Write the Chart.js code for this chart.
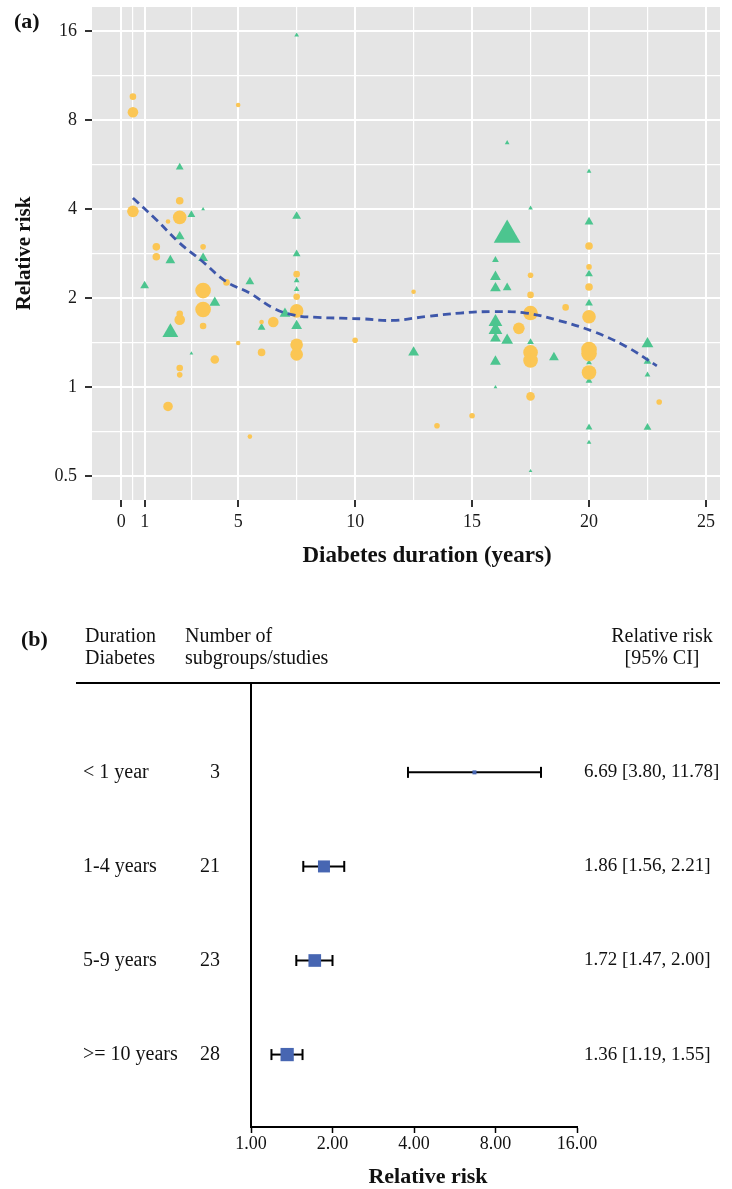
<!DOCTYPE html>
<html>
<head>
<meta charset="utf-8">
<script src="https://cdn.jsdelivr.net/npm/chart.js@4.4.0/dist/chart.umd.min.js"></script>
<style>
    html, body { margin: 0; padding: 0; background: #fff; }
    #panelA { position: absolute; left: 0; top: 0; width: 732px; height: 590px; }
    #panelB { position: absolute; left: 0; top: 590px; width: 732px; height: 599px; }
</style>
</head>
<body>
<div id="panelA"><canvas id="scatterChart"></canvas></div>
<div id="panelB"><canvas id="forestChart"></canvas></div>
<script>
// ---- panel (a): individual subgroups ----
const yellowDuration = [0.5, 0.5, 5.0, 2.5, 0.5, 2.5, 2.0, 1.5, 1.5, 3.5, 4.5, 3.5, 3.5, 2.5, 2.5, 3.5, 4.0, 2.5, 2.5, 2.0,
    5.5, 5.0, 6.0, 6.0, 6.5, 7.5, 7.5, 7.5, 7.5, 7.5, 10.0, 12.5, 13.5, 15.0, 17.5, 20.0, 20.0, 20.0, 17.5, 19.0,
    17.5, 20.0, 17.0, 17.5, 17.5, 17.5, 20.0, 20.0, 20.0, 23.0];
const yellowRR = [9.6, 8.5, 9.0, 4.27, 3.93, 3.75, 3.63, 2.98, 2.76, 2.98, 2.26, 2.12, 1.83, 1.77, 1.69, 1.61, 1.24, 1.16, 1.10, 0.86,
    0.68, 1.41, 1.31, 1.66, 1.66, 1.81, 2.02, 2.41, 1.39, 1.29, 1.44, 2.10, 0.74, 0.80, 2.39, 3.00, 2.55, 2.18, 2.05, 1.86,
    1.78, 1.73, 1.58, 1.31, 1.23, 0.93, 1.34, 1.30, 1.12, 0.89];
const yellowWeight = [25, 81, 9, 36, 100, 144, 9, 36, 36, 16, 25, 196, 196, 25, 81, 25, 49, 25, 16, 64,
    9, 9, 36, 9, 81, 144, 25, 25, 121, 121, 16, 9, 16, 16, 16, 36, 16, 36, 25, 25,
    169, 144, 100, 169, 169, 49, 196, 196, 169, 16];

const greenDuration = [7.5, 16.5, 20.0, 2.5, 17.5, 3.5, 3.0, 7.5, 20.0, 16.5, 2.5, 2.1, 3.5, 7.5, 16.0, 20.0, 16.0, 5.5, 7.5, 7.5,
    1.0, 16.0, 16.5, 20.0, 4.0, 7.0, 2.1, 6.0, 7.5, 3.0, 12.5, 16.0, 16.0, 16.0, 16.5, 17.5, 18.5, 16.0, 16.0, 17.5,
    20.0, 20.0, 20.0, 20.0, 22.5, 22.5, 22.5, 22.5];
const greenRR = [15.5, 6.7, 5.37, 5.54, 4.03, 4.0, 3.83, 3.78, 3.62, 3.27, 3.23, 2.68, 2.73, 2.82, 2.69, 2.41, 2.36, 2.27, 2.29, 2.14,
    2.20, 2.16, 2.17, 1.92, 1.93, 1.77, 1.53, 1.59, 1.61, 1.30, 1.31, 1.66, 1.56, 1.46, 1.44, 1.42, 1.26, 1.22, 1.00, 0.52,
    1.21, 1.05, 0.73, 0.65, 1.40, 1.22, 1.10, 0.73];
const greenWeight = [9, 9, 9, 36, 9, 4, 36, 49, 49, 625, 64, 64, 64, 36, 25, 36, 81, 49, 16, 16,
    49, 81, 49, 36, 81, 81, 196, 36, 81, 4, 81, 144, 144, 81, 100, 25, 64, 81, 4, 4,
    16, 25, 25, 9, 100, 36, 16, 36];

// smoothed trend
const trendDuration = [0.5, 1.5, 2.5, 3.4, 4.5, 5.5, 6.5, 7.4, 8.4, 9.4, 10.4, 11.6, 13.0, 14.5, 15.9, 17.3, 18.7, 20.2, 21.6, 22.9];
const trendRR = [4.36, 3.68, 3.07, 2.69, 2.27, 2.08, 1.85, 1.75, 1.72, 1.71, 1.70, 1.68, 1.73, 1.78, 1.80, 1.78, 1.68, 1.54, 1.37, 1.18];

const durationTicks = [0, 1, 5, 10, 15, 20, 25];
const durationMinor = [0.5, 3, 7.5, 12.5, 17.5, 22.5];
const riskTicks = [0.5, 1, 2, 4, 8, 16];
const riskMinor = [0.707, 1.414, 2.828, 5.657, 11.31];

// ---- panel (b): pooled estimates ----
const durationGroups = ['< 1 year', '1-4 years', '5-9 years', '>= 10 years'];
const groupCounts = [3, 21, 23, 28];
const groupRR = [6.69, 1.86, 1.72, 1.36];
const groupLower = [3.80, 1.56, 1.47, 1.19];
const groupUpper = [11.78, 2.21, 2.00, 1.55];
const groupWeight = [1, 9, 10, 11];
const forestTicks = [1, 2, 4, 8, 16];

const SERIF = "'Liberation Serif', 'DejaVu Serif', serif";
Chart.defaults.animation = false;
Chart.defaults.font.family = SERIF;

const minorX = new Set(durationMinor);
const minorY = new Set(riskMinor);

// chart area must not move because of label overhang
function fixSize(prop, size) {
    return s => {
        s[prop] = size;
        s.paddingTop = 0; s.paddingBottom = 0; s.paddingLeft = 0; s.paddingRight = 0;
    };
}

const panelBackground = {
    id: 'panelBackground',
    beforeDraw(chart) {
        const { ctx, chartArea: a } = chart;
        ctx.save();
        ctx.fillStyle = '#e5e5e5';
        ctx.fillRect(a.left, a.top, a.right - a.left, a.bottom - a.top);
        ctx.restore();
    },
    afterDraw(chart) {
        const ctx = chart.ctx;
        ctx.save();
        ctx.fillStyle = '#111';
        ctx.font = 'bold 22px ' + SERIF;
        ctx.textBaseline = 'middle';
        ctx.fillText('(a)', 14, 22);
        ctx.textAlign = 'center';
        ctx.font = 'bold 23px ' + SERIF;
        ctx.fillText('Diabetes duration (years)', 427, 556);
        ctx.restore();
    }
};

function gridStyle(minorSet) {
    return {
        color: '#ffffff',
        lineWidth: c => (c.tick && minorSet.has(c.tick.value)) ? 1.2 : 2,
        tickColor: c => (c.tick && minorSet.has(c.tick.value)) ? 'rgba(0,0,0,0)' : '#333',
        tickWidth: 2,
        tickLength: 7
    };
}

new Chart(document.getElementById('scatterChart'), {
    type: 'scatter',
    data: {
        datasets: [
            {
                label: 'trend',
                data: trendDuration.map((x, i) => ({ x: x, y: trendRR[i] })),
                showLine: true,
                borderColor: '#3e57aa',
                borderWidth: 2.8,
                borderDash: [8, 5],
                tension: 0.4,
                pointRadius: 0
            },
            {
                label: 'yellow',
                data: yellowDuration.map((x, i) => ({ x: x, y: yellowRR[i] })),
                pointStyle: 'circle',
                pointRadius: yellowWeight.map(w => Math.sqrt(w) / 2 + 0.8),
                backgroundColor: '#fbc654',
                borderWidth: 0
            },
            {
                label: 'green',
                data: greenDuration.map((x, i) => ({ x: x, y: greenRR[i] })),
                pointStyle: 'triangle',
                pointRadius: greenWeight.map(w => Math.sqrt(w) * 0.58 + 1),
                backgroundColor: '#4cc58f',
                borderWidth: 0
            }
        ]
    },
    options: {
        responsive: true,
        maintainAspectRatio: false,
        layout: { autoPadding: false, padding: { top: 7, right: 12, left: 0, bottom: 0 } },
        plugins: { legend: { display: false }, tooltip: { enabled: false } },
        scales: {
            x: {
                type: 'linear',
                min: -1.25,
                max: 25.6,
                afterBuildTicks: s => { s.ticks = durationTicks.concat(durationMinor).sort((a, b) => a - b).map(v => ({ value: v })); },
                afterFit: fixSize('height', 90),
                grid: gridStyle(minorX),
                border: { display: false },
                ticks: {
                    padding: 4,
                    color: '#1a1a1a',
                    font: { size: 18 },
                    callback: v => minorX.has(v) ? '' : String(v)
                },
                title: { display: false }
            },
            y: {
                type: 'logarithmic',
                min: 0.415,
                max: 19.3,
                afterBuildTicks: s => { s.ticks = riskTicks.concat(riskMinor).sort((a, b) => a - b).map(v => ({ value: v })); },
                afterFit: fixSize('width', 92),
                grid: gridStyle(minorY),
                border: { display: false },
                ticks: {
                    padding: 8,
                    color: '#1a1a1a',
                    font: { size: 18 },
                    callback: v => minorY.has(v) ? '' : String(v)
                },
                title: {
                    display: true,
                    text: 'Relative risk',
                    color: '#111',
                    font: { size: 21, weight: 'bold' },
                    padding: { top: 12, bottom: 0 }
                }
            }
        }
    },
    plugins: [panelBackground]
});

// ---- forest plot ----
const forestText = {
    id: 'forestText',
    afterDraw(chart) {
        const { ctx, chartArea: a, scales } = chart;
        ctx.save();
        ctx.fillStyle = '#111';
        ctx.textBaseline = 'middle';
        ctx.font = 'bold 22px ' + SERIF;
        ctx.fillText('(b)', 21, 50);

        ctx.font = '20px ' + SERIF;
        ctx.textAlign = 'left';
        ctx.fillText('Duration', 85, 47);
        ctx.fillText('Diabetes', 85, 69);
        ctx.fillText('Number of', 185, 47);
        ctx.fillText('subgroups/studies', 185, 69);
        ctx.textAlign = 'center';
        ctx.fillText('Relative risk', 662, 47);
        ctx.fillText('[95% CI]', 662, 69);

        ctx.strokeStyle = '#000';
        ctx.lineWidth = 2;
        ctx.beginPath();
        ctx.moveTo(76, a.top);
        ctx.lineTo(720, a.top);
        ctx.stroke();

        durationGroups.forEach((g, i) => {
            const y = scales.y.getPixelForValue(i + 1);
            ctx.font = '20px ' + SERIF;
            ctx.textAlign = 'left';
            ctx.fillText(g, 83, y);
            ctx.textAlign = 'right';
            ctx.fillText(String(groupCounts[i]), 220, y);
            ctx.font = '19px ' + SERIF;
            ctx.textAlign = 'left';
            ctx.fillText(groupRR[i].toFixed(2) + ' [' + groupLower[i].toFixed(2) + ', ' + groupUpper[i].toFixed(2) + ']', 584, y);
        });

        ctx.textAlign = 'center';
        ctx.font = 'bold 22px ' + SERIF;
        ctx.fillText('Relative risk', 428, 587);
        ctx.restore();
    }
};

const ciSets = durationGroups.map((g, i) => ({
    label: g,
    data: [{ x: groupLower[i], y: i + 1 }, { x: groupUpper[i], y: i + 1 }],
    showLine: true,
    borderColor: '#000',
    borderWidth: 2,
    pointStyle: 'line',
    pointRotation: 90,
    pointRadius: 5.5,
    pointBorderWidth: 2,
    pointBorderColor: '#000'
}));

new Chart(document.getElementById('forestChart'), {
    type: 'scatter',
    data: {
        datasets: [
            {
                label: 'estimate',
                data: groupRR.map((v, i) => ({ x: v, y: i + 1 })),
                pointStyle: 'rect',
                pointRadius: groupWeight.map(w => Math.sqrt(w) * 4 / Math.SQRT2),
                backgroundColor: '#4766b2',
                borderWidth: 0
            }
        ].concat(ciSets)
    },
    options: {
        responsive: true,
        maintainAspectRatio: false,
        layout: { autoPadding: false, padding: { top: 93, right: 155, left: 0, bottom: 0 } },
        plugins: { legend: { display: false }, tooltip: { enabled: false } },
        scales: {
            x: {
                type: 'logarithmic',
                min: 1,
                max: 16,
                afterBuildTicks: s => { s.ticks = forestTicks.map(v => ({ value: v })); },
                afterFit: fixSize('height', 62),
                grid: { drawOnChartArea: false, drawTicks: true, tickLength: 6, tickColor: '#000', tickWidth: 1.5 },
                border: { display: true, color: '#000', width: 2 },
                ticks: {
                    padding: 0,
                    color: '#111',
                    font: { size: 18 },
                    callback: v => Number(v).toFixed(2)
                },
                title: { display: false }
            },
            y: {
                type: 'linear',
                reverse: true,
                min: 0.05,
                max: 4.77,
                afterBuildTicks: s => { s.ticks = []; },
                afterFit: fixSize('width', 251),
                grid: { display: false },
                border: { display: true, color: '#000', width: 2 },
                ticks: { display: false }
            }
        }
    },
    plugins: [forestText]
});
</script>
</body>
</html>
